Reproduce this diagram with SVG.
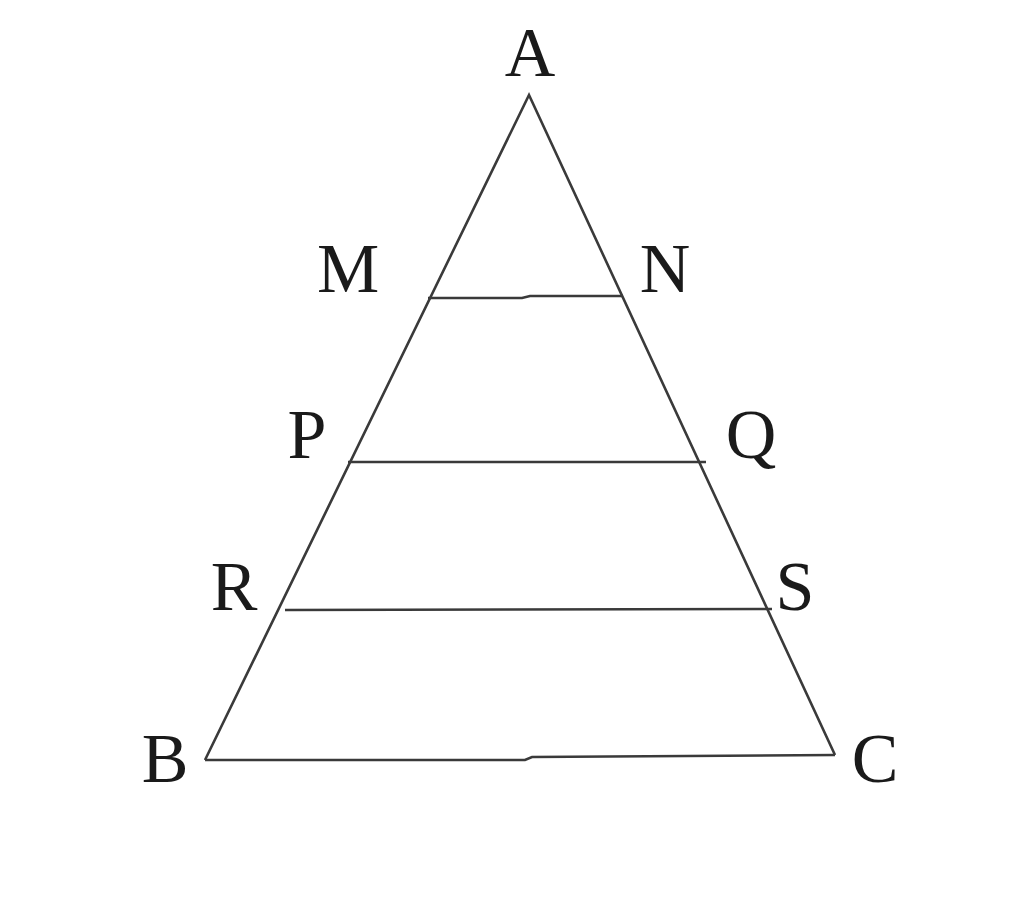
<svg xmlns="http://www.w3.org/2000/svg" width="1024" height="910" viewBox="0 0 1024 910">
<style>
.l{fill:none;stroke:#3a3a3a;stroke-width:2.6;stroke-linejoin:miter}
.t{font-family:"Liberation Serif","Times New Roman",serif;font-size:70px;fill:#1a1a1a;text-anchor:middle}
</style>
<rect width="1024" height="910" fill="#fff"/>
<g id="connectors">
<polyline class="l" points="205,760 529,95 835,755"/>
<polyline class="l" points="428,298 522,298 530,296 623,296"/>
<line class="l" x1="348" y1="462" x2="706" y2="462"/>
<line class="l" x1="285" y1="610" x2="772" y2="609"/>
<polyline class="l" points="205,760 525,760 532,757 835,755"/>
</g>
<g id="A"><text class="t" x="530" y="76">A</text></g>
<g id="M"><text class="t" x="348" y="292">M</text></g>
<g id="N"><text class="t" x="665" y="292">N</text></g>
<g id="P"><text class="t" x="307" y="458">P</text></g>
<g id="Q"><text class="t" x="751" y="458">Q</text></g>
<g id="R"><text class="t" x="234" y="610">R</text></g>
<g id="S"><text class="t" x="795" y="610">S</text></g>
<g id="B"><text class="t" x="165" y="782">B</text></g>
<g id="C"><text class="t" x="875" y="782">C</text></g>
</svg>
